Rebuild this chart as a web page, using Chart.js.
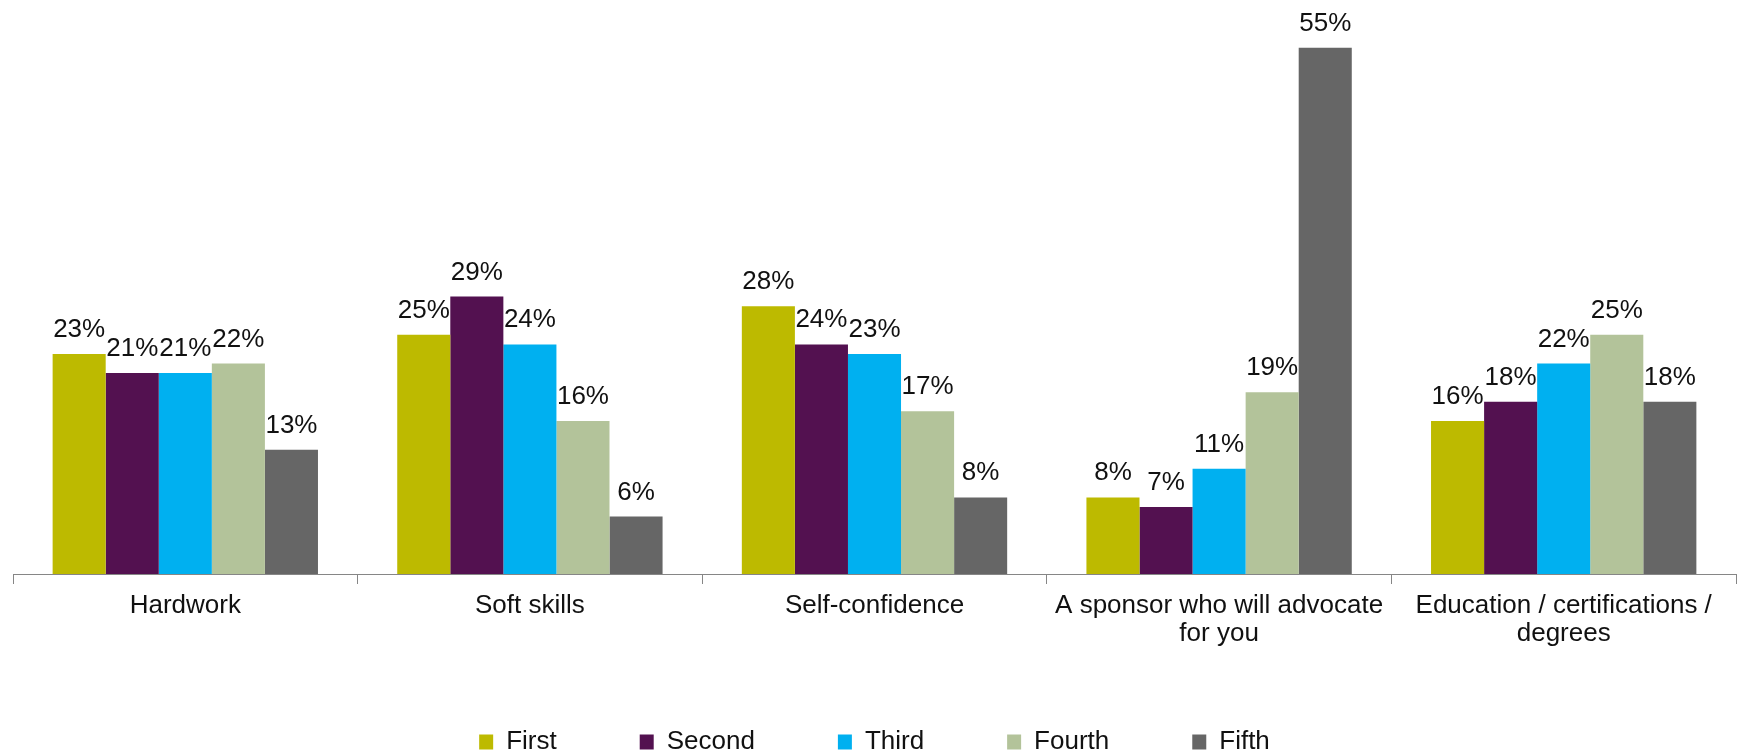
<!DOCTYPE html>
<html>
<head>
<meta charset="utf-8">
<script src="https://cdn.jsdelivr.net/npm/chart.js@4"></script>
<style>
    html, body { margin: 0; padding: 0; background: #fff; overflow: hidden; }
    #wrap { width: 1739px; height: 756px; position: relative; }
</style>
</head>
<body>
<div id="wrap"><canvas id="chart-success"></canvas></div>
<script>
// Ranking of success factors (share of respondents per rank)
const categories = [
    'Hardwork',
    'Soft skills',
    'Self-confidence',
    ['A sponsor who will advocate', 'for you'],
    ['Education / certifications /', 'degrees']
];
const rankNames = ['First', 'Second', 'Third', 'Fourth', 'Fifth'];
const firstValues = [23, 25, 28, 8, 16];
const secondValues = [21, 29, 24, 7, 18];
const thirdValues = [21, 24, 23, 11, 22];
const fourthValues = [22, 16, 17, 19, 25];
const fifthValues = [13, 6, 8, 55, 18];
const rankColors = ['#bdba00', '#531150', '#00b0f0', '#b3c39a', '#666666'];

const seriesValues = [firstValues, secondValues, thirdValues, fourthValues, fifthValues];

Chart.defaults.font.family = '"Liberation Sans", Arial, sans-serif';
Chart.defaults.color = '#111';

// Percent labels sitting above every bar
const barValueLabels = {
    id: 'barValueLabels',
    afterDatasetsDraw: (chart) => {
        const ctx = chart.ctx;
        ctx.save();
        ctx.font = '26px "Liberation Sans", Arial, sans-serif';
        ctx.fillStyle = '#111';
        ctx.textAlign = 'center';
        ctx.textBaseline = 'alphabetic';
        chart.data.datasets.forEach((ds, i) => {
            chart.getDatasetMeta(i).data.forEach((bar, j) => {
                ctx.fillText(ds.data[j] + '%', bar.x, bar.y - 17);
            });
        });
        ctx.restore();
    }
};

const ctx = document.getElementById('chart-success').getContext('2d');
new Chart(ctx, {
    type: 'bar',
    data: {
        labels: categories,
        datasets: rankNames.map((name, i) => ({
            label: name,
            data: seriesValues[i],
            backgroundColor: rankColors[i],
            borderWidth: 0,
            categoryPercentage: 0.77,
            barPercentage: 1
        }))
    },
    options: {
        responsive: true,
        maintainAspectRatio: false,
        animation: false,
        layout: { padding: { left: 13, right: 3, top: 0, bottom: -9 } },
        scales: {
            x: {
                grid: {
                    offset: true,
                    drawOnChartArea: false,
                    drawTicks: true,
                    tickLength: 10,
                    color: '#868686'
                },
                border: { color: '#868686', width: 1 },
                ticks: {
                    padding: 8,
                    maxRotation: 0,
                    autoSkip: false,
                    color: '#111',
                    font: { size: 26, lineHeight: 1.08 }
                },
                afterFit: (scale) => { scale.height = 72; }
            },
            y: {
                display: false,
                min: 0,
                max: 60
            }
        },
        plugins: {
            legend: {
                position: 'bottom',
                labels: {
                    boxWidth: 14,
                    boxHeight: 15,
                    padding: 83,
                    color: '#111',
                    font: { size: 26 }
                }
            },
            tooltip: { enabled: false }
        }
    },
    plugins: [barValueLabels]
});
</script>
</body>
</html>
